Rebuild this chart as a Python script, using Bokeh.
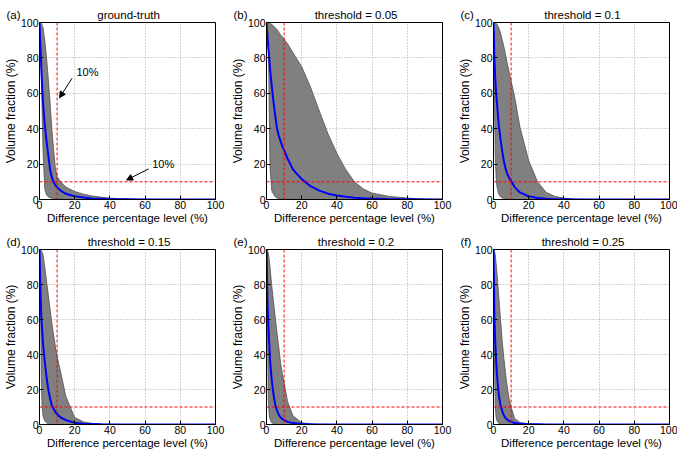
from bokeh.plotting import figure
from bokeh.models import Span, Label, Arrow, NormalHead, FixedTicker, Range1d
from bokeh.layouts import column, row
from bokeh.embed import file_html
from bokeh.resources import INLINE

# Difference percentage level (%) sample points
X = [0, 0.5, 1, 1.5, 2, 3, 4, 5, 6, 7, 8, 9, 10, 12, 15, 20, 25, 30, 35, 40, 45, 50, 55, 60, 70, 80, 90, 100]

TITLES = ["ground-truth", "threshold = 0.05", "threshold = 0.1",
          "threshold = 0.15", "threshold = 0.2", "threshold = 0.25"]
TAGS = ["(a)", "(b)", "(c)", "(d)", "(e)", "(f)"]

# (a) ground-truth
A_UPPER = [100, 100, 99.5, 98.5, 97, 90, 80, 68, 55, 40, 28, 18, 13, 10, 7, 4.5, 3, 2, 1.3, 0.8, 0.5, 0.3, 0.2, 0.1, 0, 0, 0, 0]
A_LOWER = [100, 90, 72, 50, 28, 6, 2.5, 1.5, 1, 0.7, 0.5, 0.35, 0.25, 0.1, 0, 0, 0, 0, 0, 0, 0, 0, 0, 0, 0, 0, 0, 0]
A_MEAN = [100, 87, 75, 64, 55, 42, 33, 25, 17, 12.5, 10, 8, 7, 5, 3.2, 1.8, 1.1, 0.6, 0.4, 0.2, 0.15, 0.1, 0.05, 0, 0, 0, 0, 0]
# (b) threshold = 0.05
B_UPPER = [100, 100, 100, 99.8, 99.5, 99, 98, 97, 96, 94.5, 93, 92, 90.5, 88, 83, 75, 63.5, 50, 37, 26, 17, 10, 6, 3.6, 1.7, 0.8, 0.3, 0]
B_LOWER = [100, 97, 93, 56, 18, 5, 3, 1.5, 0.8, 0.5, 0.4, 0.3, 0.2, 0.1, 0, 0, 0, 0, 0, 0, 0, 0, 0, 0, 0, 0, 0, 0]
B_MEAN = [100, 93, 86, 80, 74, 64, 55, 47, 40, 36, 33, 30, 28, 23, 17, 11.5, 7.5, 5, 3.3, 2.3, 1.5, 1, 0.7, 0.5, 0.2, 0.1, 0, 0]
# (c) threshold = 0.1
C_UPPER = [100, 100, 99.7, 99.4, 99, 97, 94, 90, 86, 81, 76, 71.5, 67, 58, 41, 22, 10, 4, 1.7, 0.8, 0.3, 0.1, 0, 0, 0, 0, 0, 0]
C_LOWER = [100, 60, 25, 12, 7, 3, 1.5, 0.8, 0.4, 0.2, 0.1, 0, 0, 0, 0, 0, 0, 0, 0, 0, 0, 0, 0, 0, 0, 0, 0, 0]
C_MEAN = [100, 80, 68, 60, 54, 42, 34, 27, 21, 17, 14, 12, 10.5, 7, 4, 1.8, 0.8, 0.4, 0.2, 0.1, 0, 0, 0, 0, 0, 0, 0, 0]
# (d) threshold = 0.15
D_UPPER = [100, 99.8, 99.5, 98.5, 97, 90, 82, 74, 66, 58, 51, 45, 39, 30, 16, 4, 1.5, 0.6, 0.2, 0.1, 0, 0, 0, 0, 0, 0, 0, 0]
D_LOWER = [100, 80, 25, 10, 5, 2, 1, 0.4, 0.1, 0, 0, 0, 0, 0, 0, 0, 0, 0, 0, 0, 0, 0, 0, 0, 0, 0, 0, 0]
D_MEAN = [100, 78, 62, 54, 46, 36, 27, 20, 15, 11, 9, 7, 6, 4, 2.5, 1, 0.5, 0.3, 0.1, 0, 0, 0, 0, 0, 0, 0, 0, 0]
# (e) threshold = 0.2
E_UPPER = [100, 99.5, 98, 95, 90, 79, 70, 61, 52, 44, 35, 29, 24, 13, 5, 1, 0.4, 0.1, 0, 0, 0, 0, 0, 0, 0, 0, 0, 0]
E_LOWER = [100, 60, 15, 6, 3, 1, 0.4, 0.1, 0, 0, 0, 0, 0, 0, 0, 0, 0, 0, 0, 0, 0, 0, 0, 0, 0, 0, 0, 0]
E_MEAN = [100, 72, 58, 47, 37, 25, 17, 11, 8, 5.5, 4, 3.2, 2.5, 1.5, 0.8, 0.3, 0.1, 0, 0, 0, 0, 0, 0, 0, 0, 0, 0, 0]
# (f) threshold = 0.25
F_UPPER = [100, 99, 97, 92, 86, 73, 60, 47, 37, 28, 20, 14, 10, 3.5, 1.2, 0.4, 0.1, 0, 0, 0, 0, 0, 0, 0, 0, 0, 0, 0]
F_LOWER = [100, 40, 10, 4, 2, 0.6, 0.2, 0, 0, 0, 0, 0, 0, 0, 0, 0, 0, 0, 0, 0, 0, 0, 0, 0, 0, 0, 0, 0]
F_MEAN = [100, 62, 47, 36, 28, 17, 11, 7.5, 5, 3.5, 2.5, 2, 1.5, 0.9, 0.5, 0.2, 0.1, 0, 0, 0, 0, 0, 0, 0, 0, 0, 0, 0]

UPPERS = [A_UPPER, B_UPPER, C_UPPER, D_UPPER, E_UPPER, F_UPPER]
LOWERS = [A_LOWER, B_LOWER, C_LOWER, D_LOWER, E_LOWER, F_LOWER]
MEANS = [A_MEAN, B_MEAN, C_MEAN, D_MEAN, E_MEAN, F_MEAN]

REF_LEVEL = 10  # 10% reference lines
TICKS = [0, 20, 40, 60, 80, 100]

FONT = "Liberation Sans"
TITLE_PX = 11.5
FRAME_W = 176
TAG_OFFSET = -33

# Arial / Liberation Sans advance widths (em) for the title characters
_W = {'(': .333, ')': .333, 'a': .556, 'b': .556, 'c': .5, 'd': .556, 'e': .556,
      'f': .278, 'g': .556, 'h': .556, 'l': .222, 'n': .556, 'o': .556, 'r': .333,
      's': .5, 't': .278, 'u': .556, '-': .333, ' ': .278, '=': .584, '.': .278}


def text_w(s):
    return sum(_W.get(ch, .556) for ch in s) * TITLE_PX


def title_text(i):
    # tag at the far left, title centred over the frame (padding with no-break spaces)
    tag, ttl = TAGS[i], TITLES[i]
    start = FRAME_W / 2 - text_w(ttl) / 2
    gap = start - (TAG_OFFSET + text_w(tag))
    n = max(1, round(gap / (0.278 * TITLE_PX)))
    return tag + "\u00a0" * n + ttl


def make_panel(i, frame_h, top, bottom, right):
    p = figure(frame_width=FRAME_W, frame_height=frame_h,
               x_range=Range1d(0, 100), y_range=Range1d(0, 100),
               output_backend="svg", toolbar_location=None,
               min_border_left=30, min_border_right=right,
               min_border_top=top, min_border_bottom=bottom,
               background_fill_color="white", border_fill_color="white")
    p.title.text = title_text(i)
    p.title.align = "left"
    p.title.offset = TAG_OFFSET
    p.title.text_font = FONT
    p.title.text_font_size = "%gpx" % TITLE_PX
    p.title.text_font_style = "normal"
    p.title.text_color = "black"
    p.title.standoff = 3

    p.varea(x=X, y1=LOWERS[i], y2=UPPERS[i], fill_color="#808080", fill_alpha=1)
    p.line(X, UPPERS[i], line_color="#505050", line_width=0.8)
    p.line(X, LOWERS[i], line_color="#505050", line_width=0.8)
    p.line(X, MEANS[i], line_color="#0000ff", line_width=2)

    p.add_layout(Span(location=REF_LEVEL, dimension="height", line_color="#ff0000",
                      line_dash="3 2", line_width=1))
    p.add_layout(Span(location=REF_LEVEL, dimension="width", line_color="#ff0000",
                      line_dash="3 2", line_width=1))

    for ax in (p.xaxis[0], p.yaxis[0]):
        ax.ticker = FixedTicker(ticks=TICKS)
        ax.minor_tick_line_color = None
        ax.major_tick_in = 4
        ax.major_tick_out = 0
        ax.major_label_text_font = FONT
        ax.major_label_text_font_size = "10.5px"
        ax.major_label_text_color = "black"
        ax.major_label_standoff = 1
        ax.axis_label_text_font = FONT
        ax.axis_label_text_font_style = "normal"
        ax.axis_label_text_color = "black"
        ax.axis_label_standoff = 0
        ax.axis_line_color = "black"
        ax.major_tick_line_color = "black"
    p.xaxis.axis_label = "Difference percentage level (%)"
    p.xaxis.axis_label_text_font_size = "11.5px"
    p.yaxis.axis_label = "Volume fraction (%)"
    p.yaxis.axis_label_text_font_size = "12px"

    p.grid.grid_line_color = "#a8a8a8"
    p.grid.grid_line_dash = "1 2"
    p.outline_line_color = "black"
    p.outline_line_alpha = 1
    return p


panels = []
for i in range(6):
    if i < 3:
        panels.append(make_panel(i, 177, 22, 33, 12 if i < 2 else 8))
    else:
        panels.append(make_panel(i, 175, 17, 24, 12 if i < 5 else 8))

# annotations on (a)
pa = panels[0]
pa.add_layout(Arrow(end=NormalHead(size=6, fill_color="black", line_color="black"),
                    x_start=18.5, y_start=68.5, x_end=11.4, y_end=57.5,
                    line_color="black", line_width=1))
pa.add_layout(Label(x=21, y=72, text="10%", text_font=FONT, text_font_size="11px",
                    text_baseline="middle", text_color="black"))
pa.add_layout(Arrow(end=NormalHead(size=6, fill_color="black", line_color="black"),
                    x_start=62, y_start=17.3, x_end=49.5, y_end=11,
                    line_color="black", line_width=1))
pa.add_layout(Label(x=64, y=20, text="10%", text_font=FONT, text_font_size="11px",
                    text_baseline="middle", text_color="black"))

layout = column(row(*panels[:3]), row(*panels[3:]))
open("out.html", "w").write(file_html(layout, INLINE))
